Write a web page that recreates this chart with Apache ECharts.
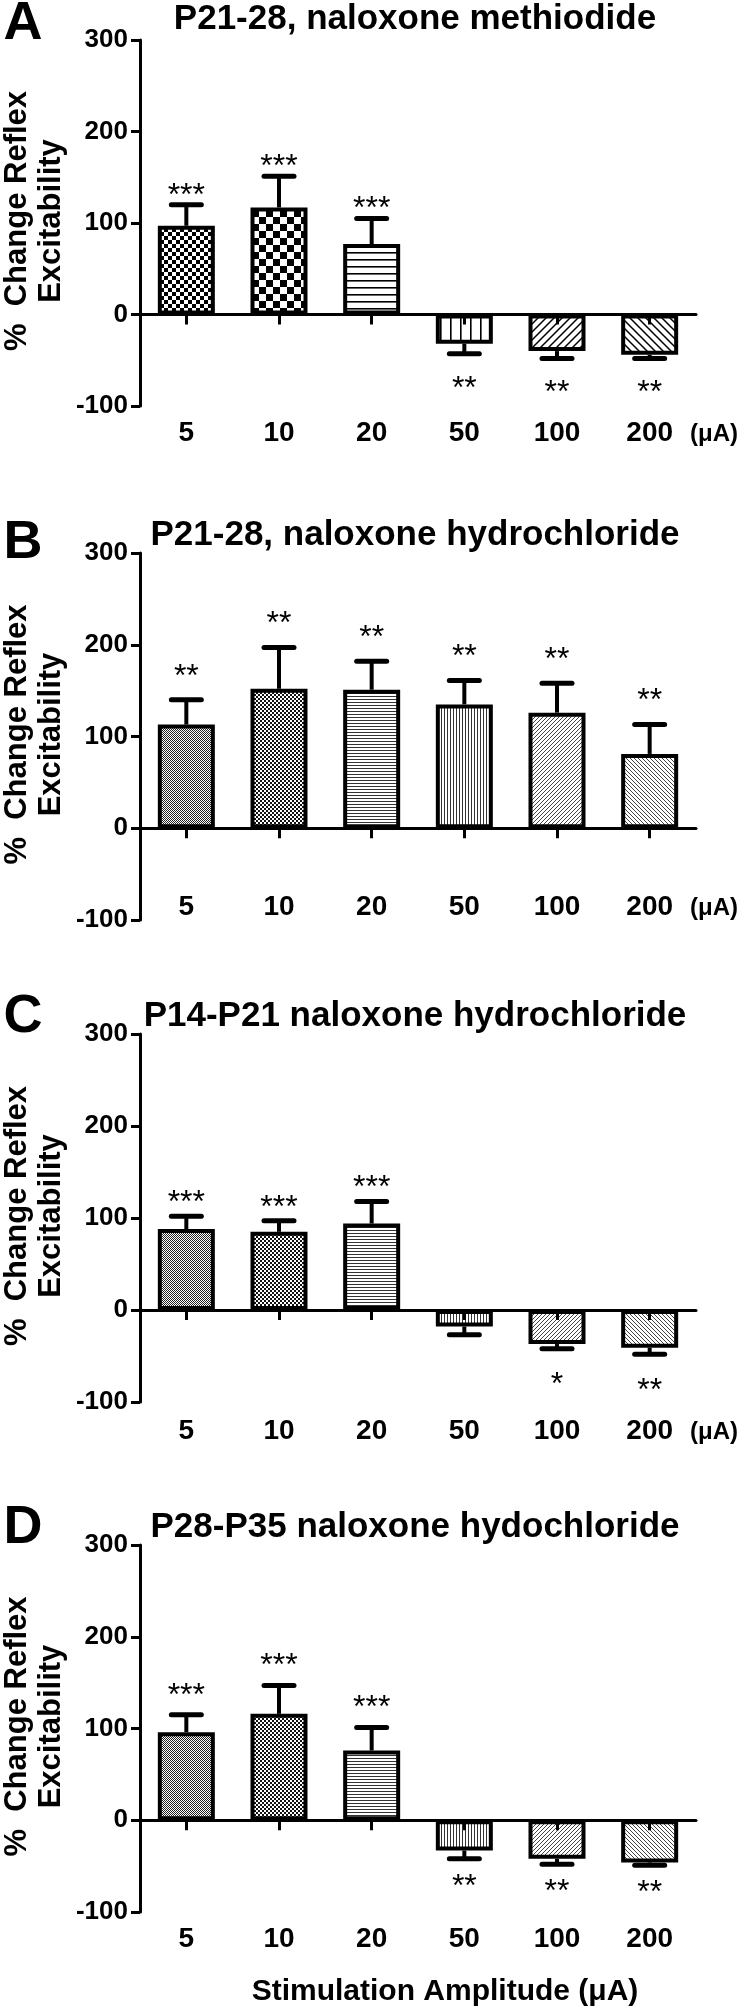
<!DOCTYPE html>
<html>
<head>
<meta charset="utf-8">
<script src="https://cdn.jsdelivr.net/npm/echarts@6/dist/echarts.min.js"></script>
<style>
html,body{margin:0;padding:0;background:#fff;}
#chart{width:746px;height:2009px;}
</style>
</head>
<body>
<div id="chart"></div>
<script>
// ---------------- DATA ----------------
const categories = ['5', '10', '20', '50', '100', '200'];
const yTicks = [-100, 0, 100, 200, 300];
const panelLetters = ['A', 'B', 'C', 'D'];
const panelTitles = [
  'P21-28, naloxone methiodide',
  'P21-28, naloxone hydrochloride',
  'P14-P21 naloxone hydrochloride',
  'P28-P35 naloxone hydochloride'
];
const yAxisLine1 = '%  Change Reflex';
const yAxisLine2 = 'Excitability';
const unitLabel = '(\u03bcA)';
const xAxisTitle = 'Stimulation Amplitude (\u03bcA)';

const meanA = [97, 117, 77, -32, -40, -44];
const semA  = [23, 34, 28, 11, 8, 4];
const starsA = ['***', '***', '***', '**', '**', '**'];

const meanB = [113, 152, 151, 135, 126, 81];
const semB  = [27, 45, 31, 26, 32, 32];
const starsB = ['**', '**', '**', '**', '**', '**'];

const meanC = [88, 85, 94, -18, -37, -41];
const semC  = [14, 12, 24, 9, 5, 7];
const starsC = ['***', '***', '***', '', '*', '**'];

const meanD = [96, 116, 76, -33, -42, -46];
const semD  = [19, 31, 25, 9, 6, 3];
const starsD = ['***', '***', '***', '**', '**', '**'];

// ---------------- STYLE ----------------
const panels = [
  {mean: meanA, sem: semA, stars: starsA, top: 40,   bottom: 406,  patterns: ['chkS','chkL','hl','vl','dr','dl'], unit: true,  labelMargin: 13, starUp: 17, starDown: 27},
  {mean: meanB, sem: semB, stars: starsB, top: 553,  bottom: 920,  patterns: ['fd','fc','fh','fv','fdr','fdl'], unit: true, labelMargin: -27, starUp: 31, starDown: 27},
  {mean: meanC, sem: semC, stars: starsC, top: 1034, bottom: 1402, patterns: ['fd','fc','fh','fv','fdr','fdl'], unit: true, labelMargin: 15, starUp: 21, starDown: 29},
  {mean: meanD, sem: semD, stars: starsD, top: 1545, bottom: 1912, patterns: ['fd','fc','fh','fv','fdr','fdl'], unit: false, labelMargin: 13, starUp: 27, starDown: 20}
];
const GRID_LEFT = 140, GRID_RIGHT = 50;
const FONT = '"Liberation Sans", Arial, Helvetica, sans-serif';

function makePattern(kind) {
  const c = document.createElement('canvas');
  const sizes = {chkS:[8,8], chkL:[14,14], hl:[8,7], vl:[10,8], dr:[8,8], dl:[8,8],
                 fd:[2,2], fc:[4,4], fh:[4,3], fv:[3,4], fdr:[4,4], fdl:[4,4]};
  const [w, h] = sizes[kind];
  c.width = w; c.height = h;
  const g = c.getContext('2d');
  g.fillStyle = '#fff'; g.fillRect(0, 0, w, h);
  g.fillStyle = '#000'; g.strokeStyle = '#000';
  switch (kind) {
    case 'chkS': g.fillRect(0,0,4,4); g.fillRect(4,4,4,4); break;
    case 'chkL': g.fillRect(0,0,7,7); g.fillRect(7,7,7,7); break;
    case 'hl': g.fillRect(0,0,w,1.6); break;
    case 'vl': g.fillRect(0,0,1.6,h); break;
    case 'dr': g.lineWidth = 1.5; g.beginPath(); g.moveTo(0,h); g.lineTo(w,0); g.moveTo(-2,2); g.lineTo(2,-2); g.moveTo(w-2,h+2); g.lineTo(w+2,h-2); g.stroke(); break;
    case 'dl': g.lineWidth = 1.5; g.beginPath(); g.moveTo(0,0); g.lineTo(w,h); g.moveTo(-2,h-2); g.lineTo(2,h+2); g.moveTo(w-2,-2); g.lineTo(w+2,2); g.stroke(); break;
    case 'fd': g.fillStyle = '#222'; g.fillRect(0,0,1,1); g.fillRect(1,1,1,1); break;
    case 'fc': g.fillStyle = '#111'; g.fillRect(0,0,2,2); g.fillRect(2,2,2,2); break;
    case 'fh': g.fillStyle = '#333'; g.fillRect(0,0,w,1); break;
    case 'fv': g.fillStyle = '#333'; g.fillRect(0,0,1,h); break;
    case 'fdr': g.fillStyle = '#444'; for (let i=0;i<4;i++) g.fillRect(i,3-i,1,1); break;
    case 'fdl': g.fillStyle = '#444'; for (let i=0;i<4;i++) g.fillRect(i,i,1,1); break;
  }
  return {image: c, repeat: 'repeat'};
}

const grids = [], xAxes = [], yAxes = [], series = [], graphics = [];
panels.forEach((p, k) => {
  grids.push({left: GRID_LEFT, right: GRID_RIGHT, top: p.top, height: p.bottom - p.top});
  xAxes.push({
    type: 'category', gridIndex: k, data: categories, z: 10,
    axisLine: {onZero: true, lineStyle: {color: '#000', width: 3}},
    axisTick: {show: true, alignWithLabel: true, length: 10, lineStyle: {color: '#000', width: 3}},
    axisLabel: {show: false}, splitLine: {show: false}
  });
  xAxes.push({
    type: 'category', gridIndex: k, data: categories, position: 'bottom',
    axisLine: {show: false, onZero: false}, axisTick: {show: false},
    axisLabel: {show: true, margin: p.labelMargin, color: '#000', fontFamily: FONT, fontWeight: 'bold', fontSize: 28},
    splitLine: {show: false}
  });
  yAxes.push({
    type: 'value', gridIndex: k, min: -100, max: 300, interval: 100,
    axisLine: {show: true, lineStyle: {color: '#000', width: 3}},
    axisTick: {show: true, length: 9, lineStyle: {color: '#000', width: 3}},
    axisLabel: {margin: 12, color: '#000', fontFamily: FONT, fontWeight: 'bold', fontSize: 26,
                customValues: yTicks},
    splitLine: {show: false}
  });
  series.push({
    type: 'bar', xAxisIndex: 2 * k, yAxisIndex: k, barWidth: 57, z: 2,
    data: p.mean.map((v, i) => ({value: v, itemStyle: {color: makePattern(p.patterns[i])}})),
    itemStyle: {borderColor: '#000', borderWidth: 4},
    emphasis: {disabled: true}, animation: false
  });
  series.push({
    type: 'custom', xAxisIndex: 2 * k, yAxisIndex: k, z: 5, animation: false,
    data: p.mean.map((v, i) => [i, v, p.sem[i]]),
    renderItem: function (params, api) {
      const i = api.value(0), m = api.value(1), s = api.value(2);
      const end = m >= 0 ? m + s : m - s;
      const p0 = api.coord([i, m]);
      const p1 = api.coord([i, end]);
      const cap = 15;
      const star = p.stars[params.dataIndex];
      const sy = m >= 0 ? p1[1] - p.starUp + 8 : p1[1] + p.starDown + 8;
      return {
        type: 'group',
        children: [
          {type: 'line', shape: {x1: p0[0], y1: p0[1], x2: p1[0], y2: p1[1]}, style: {stroke: '#000', lineWidth: 4}},
          {type: 'line', shape: {x1: p1[0] - cap, y1: p1[1], x2: p1[0] + cap, y2: p1[1]}, style: {stroke: '#000', lineWidth: 5, lineCap: 'round'}},
          {type: 'text', x: p1[0], y: sy, style: {text: star, fill: '#000', font: 'normal 32px ' + FONT, textAlign: 'center', textVerticalAlign: 'middle'}}
        ]
      };
    }
  });
  const titleY = [19, 535, 1016, 1527][k];
  graphics.push({type: 'text', x: 415, y: titleY, style: {text: panelTitles[k], fill: '#000', font: 'bold 35px ' + FONT, textAlign: 'center', textVerticalAlign: 'middle'}});
  const letterY = [24, 543, 1017, 1528][k];
  graphics.push({type: 'text', x: 23, y: letterY, style: {text: panelLetters[k], fill: '#000', font: 'bold 54px ' + FONT, textAlign: 'center', textVerticalAlign: 'middle'}});
  const cy = (p.top + p.bottom) / 2 - 2;
  graphics.push({type: 'text', x: 17, y: cy, rotation: Math.PI / 2, style: {text: yAxisLine1, fill: '#000', font: 'bold 31px ' + FONT, textAlign: 'center', textVerticalAlign: 'middle'}});
  graphics.push({type: 'text', x: 51, y: cy, rotation: Math.PI / 2, style: {text: yAxisLine2, fill: '#000', font: 'bold 31px ' + FONT, textAlign: 'center', textVerticalAlign: 'middle'}});
  if (p.unit) {
    graphics.push({type: 'text', x: 690, y: p.bottom + p.labelMargin + 15, style: {text: unitLabel, fill: '#000', font: 'bold 24px ' + FONT, textAlign: 'left', textVerticalAlign: 'middle'}});
  }
});
graphics.push({type: 'text', x: 445, y: 1992, style: {text: xAxisTitle, fill: '#000', font: 'bold 30px ' + FONT, textAlign: 'center', textVerticalAlign: 'middle'}});

const chart = echarts.init(document.getElementById('chart'), null, {renderer: 'canvas'});
chart.setOption({
  backgroundColor: '#fff',
  animation: false,
  grid: grids, xAxis: xAxes, yAxis: yAxes, series: series,
  graphic: graphics
});
</script>
</body>
</html>
